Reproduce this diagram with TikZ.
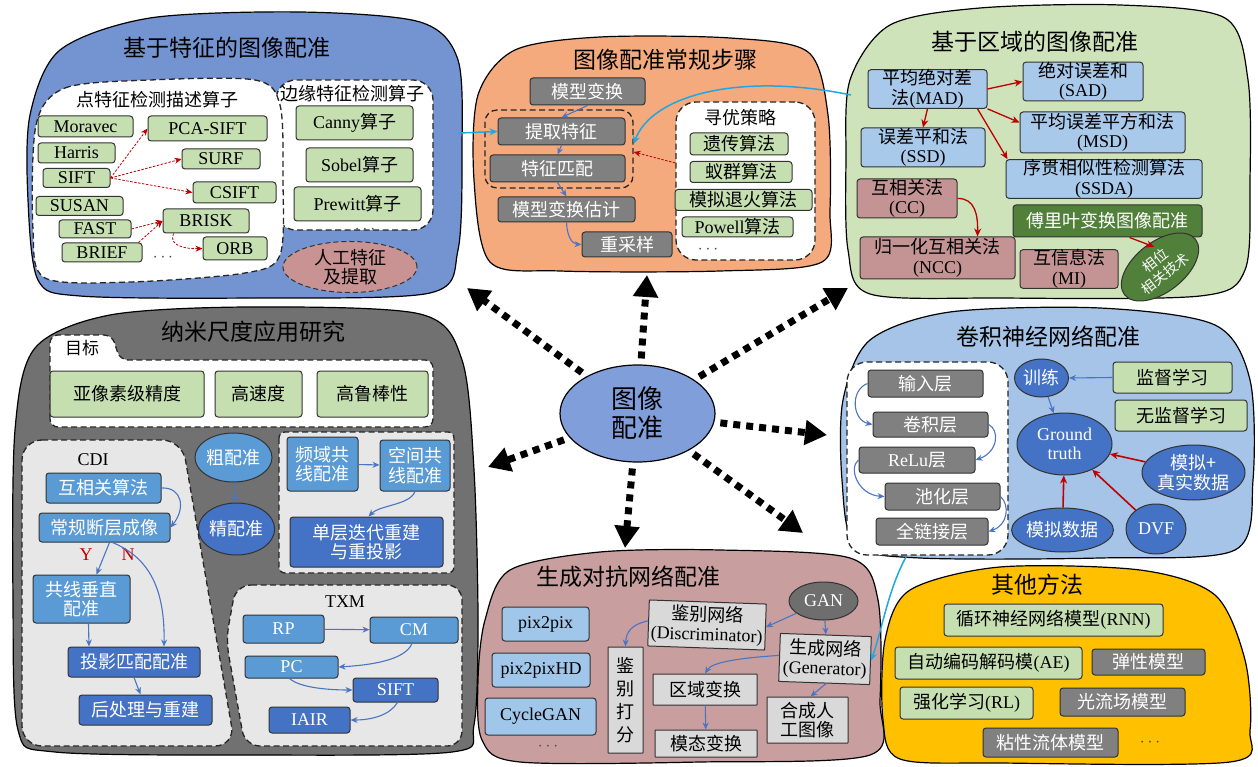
\documentclass[tikz,border=0pt]{standalone}
\usepackage{fontspec}
\setmainfont{Liberation Serif}
\newfontfamily\cjk{Noto Sans CJK SC}
\usetikzlibrary{arrows.meta,shapes.geometric,calc}
\newcommand\lat[1]{{\rmfamily #1}}
\newcommand\fs{\fontsize{18}{19.5}\selectfont}
\newcommand\fsm{\fontsize{14}{17}\selectfont}
\newcommand\ft{\fontsize{23}{26}\selectfont}
\newcommand\fc{\fontsize{26}{29}\selectfont}
\definecolor{cBlue}{HTML}{7393D1}
\definecolor{cOrange}{HTML}{F4AA7D}
\definecolor{cGreen}{HTML}{CFE3BA}
\definecolor{cGB}{HTML}{C5DFB1}
\definecolor{cGy}{HTML}{808080}
\definecolor{cLB}{HTML}{A9C9EB}
\definecolor{cPk}{HTML}{C49494}
\definecolor{cDG}{HTML}{50803A}
\definecolor{cRose}{HTML}{C99393}
\definecolor{cDGray}{HTML}{717171}
\definecolor{cLGray}{HTML}{E7E7E7}
\definecolor{cMB}{HTML}{5B9BD5}
\definecolor{cDB}{HTML}{4472C4}
\definecolor{cCenter}{HTML}{809FDA}
\definecolor{cCNN}{HTML}{A5C4E8}
\definecolor{cGAN}{HTML}{C99E9E}
\definecolor{cLG}{HTML}{D9D9D9}
\definecolor{cGANell}{HTML}{6E6E6E}
\definecolor{cYellow}{HTML}{FFC000}
\definecolor{cRed}{HTML}{C00000}
\definecolor{cArrow}{HTML}{4A74C4}
\definecolor{cCyan}{HTML}{1FA8E0}
\definecolor{cGBlue}{HTML}{A0C6EA}
\tikzset{
 blob/.style={draw=black, line width=1.2pt},
 dreg/.style={draw=black!85, line width=1.3pt, dash pattern=on 6pt off 3.5pt, fill=white},
 bx/.style={draw=black!80, line width=1pt, rounded corners=3pt, inner sep=0pt, align=center, font={\cjk\fs}},
 en/.style={font={\rmfamily\fs}},
 gb/.style={bx, fill=cGB},
 gy/.style={bx, fill=cGy, text=white},
 lb/.style={bx, fill=cLB},
 pk/.style={bx, fill=cPk},
 dg/.style={bx, fill=cDG, text=white},
 mb/.style={bx, fill=cMB, text=white},
 db/.style={bx, fill=cDB, text=white},
 lg/.style={bx, fill=cLG, rounded corners=0.5pt},
 gbl/.style={bx, fill=cGBlue},
 eb/.style={ellipse, draw=black!80, line width=1pt, fill=cDB, text=white, inner sep=0pt, align=center, font={\cjk\fs}},
 rar/.style={draw=cRed, line width=1.3pt, -{Stealth[length=8pt,width=7pt]}},
 rard/.style={draw=cRed, line width=0.8pt, dash pattern=on 2.5pt off 1.5pt, -{Stealth[length=7pt,width=6pt]}},
 bar/.style={draw=cArrow, line width=1.1pt, -{Stealth[length=7pt,width=6pt]}},
 cyar/.style={draw=cCyan, line width=1.5pt, -{Stealth[length=8pt,width=7pt]}},
 big/.style={draw=black, line width=7pt, dash pattern=on 7pt off 6pt, -{Triangle[length=22pt,width=24pt]}, shorten <=6pt},
 ttl/.style={font={\cjk\ft}, inner sep=0pt},
 lbl/.style={font={\cjk\fs}, inner sep=0pt},
 dts/.style={font=\fs, text=black!70, inner sep=0pt},
}
\begin{document}
\begin{tikzpicture}[x=1pt,y=-1pt]
\fill[white] (0,0) rectangle (1258,767);
\useasboundingbox (0,0) rectangle (1258,767);

% ================= top-left: feature based =================
\draw[blob, fill=cBlue] plot[smooth cycle] coordinates {(30,115) (60,50) (150,18) (300,12) (420,22) (458,60) (462,150) (458,250) (430,293) (250,298) (80,296) (38,280) (28,200)};
\node[ttl] (t1) at (227,48) {基于特征的图像配准};
\draw[dreg, rounded corners=20pt] (276,80) rectangle (433,230);
\draw[dreg] plot[smooth cycle] coordinates {(36,125) (65,88) (150,80) (255,80) (280,105) (283,180) (280,255) (245,273) (130,282) (45,278) (33,230)};
\node[lbl] (l1) at (157,100) {点特征检测描述算子};
\node[lbl] (l2) at (352,94) {边缘特征检测算子};
\node[gb,en,minimum width=95,minimum height=21] (mor) at (85.5,126.5) {Moravec};
\node[gb,en,minimum width=77,minimum height=20] (har) at (76.5,153) {Harris};
\node[gb,en,minimum width=67,minimum height=19] (sift) at (76.5,178) {SIFT};
\node[gb,en,minimum width=87,minimum height=19] (sus) at (79.5,206) {SUSAN};
\node[gb,en,minimum width=72,minimum height=18] (fast) at (95,229) {FAST};
\node[gb,en,minimum width=80,minimum height=19] (brief) at (102,252.5) {BRIEF};
\node[gb,en,minimum width=119,minimum height=25] (pca) at (207.5,128.5) {PCA-SIFT};
\node[gb,en,minimum width=78,minimum height=20] (surf) at (221,159) {SURF};
\node[gb,en,minimum width=83,minimum height=21] (csift) at (234.5,192.5) {CSIFT};
\node[gb,en,minimum width=86,minimum height=24] (brisk) at (206,221) {BRISK};
\node[gb,en,minimum width=64,minimum height=23] (orb) at (235,248.5) {ORB};
\node[dts] (d1) at (163,258) {$\cdots$};
\node[gb,minimum width=117,minimum height=34] (canny) at (354.5,123) {\lat{Canny}算子};
\node[gb,minimum width=107,minimum height=34] (sobel) at (359.5,165) {\lat{Sobel}算子};
\node[gb,minimum width=127,minimum height=34] (prew) at (357.5,204) {\lat{Prewitt}算子};
\node[dts] (d2) at (365,230) {$\cdots$};
\node[ellipse, draw=black!80, line width=1pt, dash pattern=on 5pt off 3pt, fill=cRose, minimum width=134, minimum height=48, inner sep=0pt, align=center, font={\cjk\fs}] (rg) at (350,267) {人工特征\\及提取};
\draw[rard] (sift.east) -- (pca.west);
\draw[rard] (sift.east) -- (surf.west);
\draw[rard] (sift.east) -- (csift.west);
\draw[rard] (fast.east) -- (brisk.west);
\draw[rard] ([xshift=-4pt]brief.north east) -- (brisk.west);
\draw[rard] ([xshift=11pt]brisk.south west) .. controls (168,246) and (186,249) .. (orb.west);

% ================= top-center: steps =================
\draw[blob, fill=cOrange] plot[smooth cycle] coordinates {(478,95) (515,50) (600,37) (730,38) (808,52) (828,115) (830,210) (822,262) (720,271) (560,271) (490,262) (474,180)};
\node[ttl] (t2) at (665,60) {图像配准常规步骤};
\node[draw=black!85, line width=1.3pt, dash pattern=on 6pt off 3.5pt, rounded corners=12pt, minimum width=148, minimum height=78] (dr) at (559,149) {};
\node[dreg, rounded corners=20pt, minimum width=139, minimum height=158] (yr) at (745.5,181) {};
\node[gy,minimum width=115,minimum height=27] (mx) at (587.5,91.5) {模型变换};
\node[gy,minimum width=127,minimum height=27] (tq) at (561.5,131.5) {提取特征};
\node[gy,minimum width=135,minimum height=27] (tp) at (557.5,168.5) {特征匹配};
\node[gy,minimum width=137,minimum height=25] (mg) at (566.5,209.5) {模型变换估计};
\node[gy,minimum width=90,minimum height=25] (cy) at (627,244.5) {重采样};
\node[lbl] (l3) at (740,118) {寻优策略};
\node[gb,minimum width=98,minimum height=22] (yc) at (739,144) {遗传算法};
\node[gb,minimum width=102,minimum height=21] (yq) at (741,172) {蚁群算法};
\node[gb,minimum width=137,minimum height=21] (mn) at (743.5,200) {模拟退火算法};
\node[gb,minimum width=111,minimum height=20] (pw) at (737.5,227) {\lat{Powell}算法};
\node[dts] (d3) at (708,250) {$\cdots$};
\draw[bar] (mx.south) -- (tq.north);
\draw[bar] (tq.south) -- (tp.north);
\draw[bar] (tp.south) -- (mg.north);
\draw[bar] (mg.south) .. controls (567,236) and (572,244) .. (cy.west);
\draw[rard] ([yshift=18pt]yr.west) -- ([yshift=-3pt]dr.east);
\coordinate (c1) at (459,133);
\draw[cyar] (c1) -- (tq.west);

% ================= top-right: region based =================
\draw[blob, fill=cGreen] plot[smooth cycle] coordinates {(850,80) (890,25) (980,8) (1120,5) (1225,18) (1248,80) (1250,180) (1245,270) (1200,296) (1000,298) (870,294) (848,250) (846,160)};
\node[ttl] (t3) at (1035,42) {基于区域的图像配准};
\node[lb,minimum width=119,minimum height=38] (mad) at (927.5,89) {平均绝对差\\法\lat{(MAD)}};
\node[lb,minimum width=120,minimum height=37] (sad) at (1083,81.5) {绝对误差和\\\lat{(SAD)}};
\node[lb,minimum width=165,minimum height=41] (msd) at (1102.5,132.5) {平均误差平方和法\\\lat{(MSD)}};
\node[lb,minimum width=124,minimum height=39] (ssd) at (923,147.5) {误差平和法\\\lat{(SSD)}};
\node[lb,minimum width=196,minimum height=38] (ssda) at (1104,179) {序贯相似性检测算法\\\lat{(SSDA)}};
\node[pk,minimum width=100,minimum height=39] (cc) at (907,198.5) {互相关法\\\lat{(CC)}};
\node[dg,minimum width=189,minimum height=32] (fly) at (1107.5,221) {傅里叶变换图像配准};
\node[pk,minimum width=155,minimum height=42] (ncc) at (937.5,258) {归一化互相关法\\\lat{(NCC)}};
\node[pk,minimum width=98,minimum height=38] (mi) at (1069,269) {互信息法\\\lat{(MI)}};
\node[ellipse, draw=black!80, line width=1pt, fill=cDG, text=white, rotate=38, minimum width=90, minimum height=50, inner sep=0pt, align=center, font={\cjk\fsm}] (xw) at (1160,267) {相位\\相关技术};
\draw[rar] (mad.east) -- (sad.west);
\draw[rar] (mad.south east) -- ([yshift=10pt]msd.west);
\draw[rar] ([xshift=-10pt]mad.south east) -- ([xshift=2pt]ssda.north west);
\draw[rar] (mad.south) -- (ssd.north);
\draw[rar] (cc.east) .. controls (975,198) and (978,215) .. ([xshift=40pt]ncc.north);
\draw[rar] ([xshift=22pt]fly.south) -- ([xshift=10pt]xw.north);
\coordinate (c2) at (851,95);
\draw[cyar] (c2) .. controls (740,72) and (652,95) .. ([yshift=5pt]dr.east);

% ================= middle-left: nanoscale =================
\draw[blob, fill=cDGray] plot[smooth cycle] coordinates {(15,430) (35,348) (110,315) (250,307) (420,314) (462,360) (474,470) (478,620) (474,725) (452,752) (250,755) (55,752) (18,730) (13,600)};
\node[ttl] (t4) at (253,332) {纳米尺度应用研究};
\draw[dreg, rounded corners=8pt] (50,427) -- (50,335) -- (112,335) -- (120,360) -- (433,360) -- (433,427) -- cycle;
\node[lbl, font={\cjk\fontsize{17}{19}\selectfont}] (l4) at (82,348) {目标};
\node[gb,minimum width=154,minimum height=46] (g1) at (127,394) {亚像素级精度};
\node[gb,minimum width=87,minimum height=46] (g2) at (258.5,394) {高速度};
\node[gb,minimum width=111,minimum height=46] (g3) at (372.5,394) {高鲁棒性};
\draw[dreg, fill=cLGray, rounded corners=20pt] (22,440) -- (182,440) -- (235,746) -- (22,746) -- cycle;
\node[en, inner sep=0pt] (l5) at (93,460) {CDI};
\node[mb,minimum width=115,minimum height=30] (hx) at (103.5,488) {互相关算法};
\node[mb,minimum width=131,minimum height=29] (cg) at (104.5,527.5) {常规断层成像};
\node[mb,minimum width=97,minimum height=48] (gx) at (81.5,599) {共线垂直\\配准};
\node[db,minimum width=132,minimum height=30] (ty) at (134,662) {投影匹配配准};
\node[db,minimum width=133,minimum height=30] (hc) at (145.5,710) {后处理与重建};
\node[en, text=cRed, inner sep=0pt] (ly) at (86,555) {Y};
\node[en, text=cRed, inner sep=0pt] (ln) at (128,555) {N};
\draw[bar] (hx.east) .. controls (182,487) and (186,508) .. (cg.east);
\draw[bar] ([xshift=5pt]cg.south) -- ([xshift=15pt]gx.north);
\draw[bar] ([xshift=8pt]cg.south) .. controls (150,558) and (165,590) .. ([xshift=30pt]ty.north);
\draw[bar] ([xshift=7pt]gx.south) -- ([xshift=-45pt]ty.north);
\draw[bar] (ty.south) -- ([xshift=-5pt]hc.north);
\node[eb, fill=cMB, minimum width=77, minimum height=49] (cp) at (233.5,457.5) {粗配准};
\node[eb, minimum width=75, minimum height=52] (jp) at (236.5,529) {精配准};
\draw[bar] (cp) -- (jp);
\draw[dreg, fill=cLGray, rounded corners=6pt] (279,432) rectangle (454,573);
\node[mb,minimum width=71,minimum height=54] (pf) at (322.5,464) {频域共\\线配准};
\node[mb,minimum width=70,minimum height=51] (kj) at (415,465.5) {空间共\\线配准};
\node[db,minimum width=153,minimum height=50] (dc) at (366.5,542) {单层迭代重建\\与重投影};
\draw[bar] (pf) -- (kj);
\draw[bar] (kj.south) .. controls (410,505) and (380,505) .. ([xshift=2pt]dc.north);
\draw[dreg, fill=cLGray, rounded corners=15pt] (236,585) -- (462,585) -- (462,746) -- (245,746) -- (226,640) -- cycle;
\node[en, inner sep=0pt] (l6) at (345,602) {TXM};
\node[mb,en,minimum width=81,minimum height=28] (rp) at (283.5,629) {RP};
\node[mb,en,minimum width=88,minimum height=26] (cm) at (414,630) {CM};
\node[mb,en,minimum width=93,minimum height=22] (pc) at (291.5,667) {PC};
\node[db,en,minimum width=85,minimum height=24] (sf) at (395.5,690) {SIFT};
\node[db,en,minimum width=81,minimum height=26] (ia) at (309.5,720) {IAIR};
\draw[bar] (rp) -- (cm);
\draw[bar] ([xshift=-2pt]cm.south) .. controls (405,660) and (372,665) .. (pc.east);
\draw[bar] ([xshift=-2pt]pc.south) .. controls (300,688) and (330,690) .. (sf.west);
\draw[bar] ([xshift=2pt]sf.south) .. controls (390,715) and (372,720) .. (ia.east);

% ================= center =================
\node[ellipse, draw=black, line width=1.2pt, fill=cCenter, minimum width=155, minimum height=97, inner sep=0pt, align=center, font={\cjk\fc}] (ce) at (637.5,413.5) {图像\\配准};
\coordinate (e1) at (467,288);
\coordinate (e2) at (647,275);
\coordinate (e3) at (848,288);
\coordinate (e4) at (827,435);
\coordinate (e5) at (803,533);
\coordinate (e6) at (625,548);
\coordinate (e7) at (488,467);
\foreach \e in {e1,e2,e3,e4,e5,e6,e7} \draw[big] (ce) -- (\e);

% ================= right-middle: CNN =================
\draw[blob, fill=cCNN] plot[smooth cycle] coordinates {(843,400) (870,340) (950,312) (1100,308) (1215,325) (1250,380) (1253,480) (1235,550) (1100,558) (920,558) (855,545) (842,480)};
\node[ttl] (t5) at (1048,337) {卷积神经网络配准};
\draw[dreg, rounded corners=20pt] (847,362) rectangle (1008,555);
\node[gy,minimum width=115,minimum height=27] (sr) at (925.5,383.5) {输入层};
\node[gy,minimum width=115,minimum height=25] (jj) at (930.5,424.5) {卷积层};
\node[gy,minimum width=116,minimum height=26] (rl) at (917,460) {\lat{ReLu}层};
\node[gy,minimum width=115,minimum height=27] (ch) at (942.5,496.5) {池化层};
\node[gy,minimum width=112,minimum height=27] (ql) at (932,531.5) {全链接层};
\draw[bar] (sr.west) .. controls (850,390) and (852,420) .. (jj.west);
\draw[bar] (jj.east) .. controls (1000,430) and (998,452) .. (rl.east);
\draw[bar] (rl.west) .. controls (848,468) and (858,495) .. (ch.west);
\draw[bar] (ch.east) .. controls (1010,505) and (1008,525) .. (ql.east);
\node[eb, minimum width=54, minimum height=38] (xl) at (1041.5,378) {训练};
\node[eb, font={\rmfamily\fs}, minimum width=95, minimum height=62] (gt) at (1064.5,444) {Ground\\truth};
\node[eb, minimum width=103, minimum height=55] (mz) at (1193.5,472.5) {模拟+\\真实数据};
\node[eb, minimum width=91, minimum height=44] (ms) at (1062.5,530) {模拟数据};
\node[eb, font={\rmfamily\fs}, minimum width=60, minimum height=50] (dvf) at (1156,529) {DVF};
\node[gb,minimum width=119,minimum height=31] (jd) at (1172.5,377.5) {监督学习};
\node[gb,minimum width=132,minimum height=31] (wj) at (1181,415.5) {无监督学习};
\draw[bar] (jd.west) -- (xl.east);
\draw[bar] (xl) -- (gt);
\draw[rar, line width=1.6pt] (ms) -- (gt);
\draw[rar, line width=1.6pt] (dvf) -- (gt);
\draw[rar, line width=1.6pt] (mz) -- (gt);

% ================= bottom-center: GAN =================
\draw[blob, fill=cGAN] plot[smooth cycle] coordinates {(485,620) (510,570) (600,552) (720,550) (850,558) (878,600) (880,700) (870,755) (700,762) (520,762) (482,740) (478,680)};
\node[ttl] (t6) at (628,577) {生成对抗网络配准};
\node[gbl,en,minimum width=87,minimum height=34] (p1) at (545.5,624) {pix2pix};
\node[gbl,en,minimum width=98,minimum height=34] (p2) at (541,670) {pix2pixHD};
\node[gbl,en,minimum width=111,minimum height=37] (p3) at (540.5,716.5) {CycleGAN};
\node[dts] (d4) at (548,747) {$\cdots$};
\node[ellipse, draw=black!80, line width=1pt, fill=cGANell, text=white, minimum width=69, minimum height=38, inner sep=0pt, font={\rmfamily\fs}] (gan) at (823.5,601) {GAN};
\node[lg,minimum width=117,minimum height=46, rotate=-2] (dis) at (707,625) {鉴别网络\\\lat{(Discriminator)}};
\node[lg,minimum width=91,minimum height=48, rotate=-2] (gen) at (825,659) {生成网络\\\lat{(Generator)}};
\node[lg,minimum width=35,minimum height=106, font={\cjk\fontsize{18}{23}\selectfont}] (jb) at (625.5,700) {鉴\\别\\打\\分};
\node[lg,minimum width=104,minimum height=31] (qy) at (705,689.5) {区域变换};
\node[lg,minimum width=102,minimum height=27] (mt) at (706,743.5) {模态变换};
\node[lg,minimum width=81,minimum height=46] (hc2) at (807.5,720) {合成人\\工图像};
\draw[bar] (gan) -- (dis.east);
\draw[bar] (gan) -- (gen.north);
\draw[bar] ([yshift=2pt]dis.west) .. controls (632,624) and (626,632) .. (jb.north);
\draw[bar] ([yshift=2pt]gen.west) .. controls (740,658) and (712,662) .. (qy.north);
\draw[bar] (qy) -- (mt);
\draw[bar] ([xshift=2pt]gen.south) -- ([xshift=3pt]hc2.north);

% ================= bottom-right: other methods =================
\draw[blob, fill=cYellow] plot[smooth cycle] coordinates {(885,640) (910,590) (1000,567) (1140,570) (1215,595) (1245,660) (1250,730) (1230,762) (1000,763) (900,759) (883,720)};
\node[ttl] (t7) at (1037,585) {其他方法};
\node[gb,minimum width=219,minimum height=32] (rnn) at (1053.5,620) {循环神经网络模型\lat{(RNN)}};
\node[gb,minimum width=187,minimum height=32] (ae) at (988.5,663) {自动编码解码模\lat{(AE)}};
\node[gb,minimum width=133,minimum height=32] (rlb) at (966.5,703) {强化学习\lat{(RL)}};
\node[gy,minimum width=113,minimum height=26] (tx) at (1148.5,662) {弹性模型};
\node[gy,minimum width=125,minimum height=28] (gl) at (1122.5,702) {光流场模型};
\node[gy,minimum width=135,minimum height=29] (nx) at (1050.5,742.5) {粘性流体模型};
\node[dts] (d5) at (1150,743) {$\cdots$};

\coordinate (c3) at (906,557);
\draw[cyar] (c3) .. controls (888,590) and (882,630) .. (gen.east);
\end{tikzpicture}
\end{document}
